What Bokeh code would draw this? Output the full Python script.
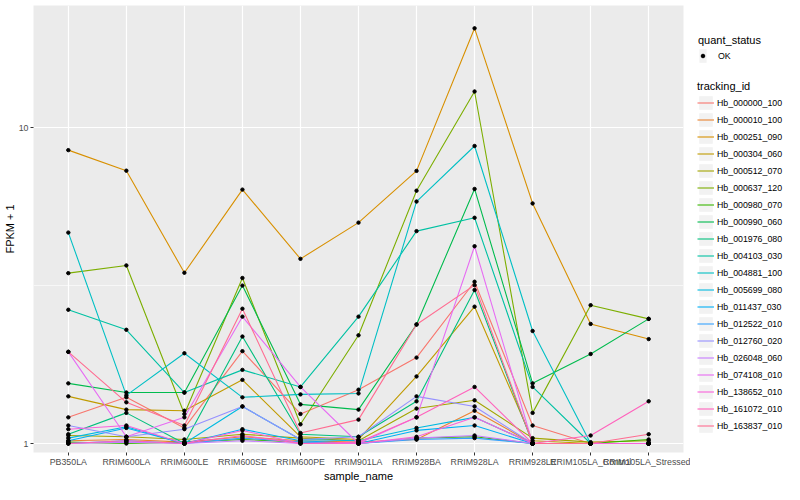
from bokeh.plotting import figure
from bokeh.layouts import row
from bokeh.models import (FactorRange, Range1d, FixedTicker, Legend, LegendItem,
                          CustomJSTickFormatter)
from bokeh.embed import file_html
from bokeh.resources import INLINE

samples = ["PB350LA", "RRIM600LA", "RRIM600LE", "RRIM600SE", "RRIM600PE", "RRIM901LA",
           "RRIM928BA", "RRIM928LA", "RRIM928LE", "RRIM105LA_Control", "RRIM105LA_Stressed"]

tracking_ids = ["Hb_000000_100", "Hb_000010_100", "Hb_000251_090", "Hb_000304_060",
                "Hb_000512_070", "Hb_000637_120", "Hb_000980_070", "Hb_000990_060",
                "Hb_001976_080", "Hb_004103_030", "Hb_004881_100", "Hb_005699_080",
                "Hb_011437_030", "Hb_012522_010", "Hb_012760_020", "Hb_026048_060",
                "Hb_074108_010", "Hb_138652_010", "Hb_161072_010", "Hb_163837_010"]

colors = ["#F8766D", "#EA8331", "#D89000", "#C09B00", "#A3A500", "#7CAE00", "#39B600",
          "#00BB4E", "#00BF7D", "#00C1A3", "#00BFC4", "#00BAE0", "#00B0F6", "#35A2FF",
          "#9590FF", "#C77CFF", "#E76BF3", "#FA62DB", "#FF62BC", "#FF6C91"]

# FPKM + 1 per sample (same order as samples)
hb_000000_100 = [1.21, 1.40, 1.12, 1.96, 1.24, 1.48, 1.87, 3.25, 1.14, 1.00, 1.00]
hb_000010_100 = [1.02, 1.03, 1.01, 1.05, 1.02, 1.01, 1.03, 1.27, 1.00, 1.00, 1.00]
hb_000251_090 = [8.48, 7.30, 3.47, 6.36, 3.84, 5.00, 7.29, 20.6, 5.75, 2.39, 2.14]
hb_000304_060 = [1.41, 1.28, 1.27, 1.59, 1.05, 1.03, 1.63, 2.71, 1.02, 1.00, 1.00]
hb_000512_070 = [1.06, 1.05, 1.03, 1.07, 1.04, 1.02, 1.29, 1.37, 1.04, 1.01, 1.02]
hb_000637_120 = [3.46, 3.66, 1.24, 3.34, 1.15, 2.20, 6.31, 13.0, 1.25, 2.74, 2.48]
hb_000980_070 = [1.01, 1.00, 1.01, 1.03, 1.01, 1.00, 1.04, 1.05, 1.00, 1.00, 1.03]
hb_000990_060 = [1.55, 1.45, 1.45, 3.16, 1.33, 1.28, 2.38, 6.39, 1.55, 1.92, 2.48]
hb_001976_080 = [1.07, 1.25, 1.00, 2.18, 1.07, 1.05, 1.36, 3.06, 1.00, 1.00, 1.00]
hb_004103_030 = [2.65, 2.29, 1.45, 1.71, 1.51, 2.52, 4.70, 5.18, 1.51, 1.00, 1.00]
hb_004881_100 = [4.65, 1.42, 1.93, 1.40, 1.43, 1.44, 5.83, 8.74, 2.27, 1.00, 1.00]
hb_005699_080 = [1.04, 1.13, 1.00, 1.31, 1.03, 1.02, 1.12, 1.21, 1.00, 1.00, 1.00]
hb_011437_030 = [1.02, 1.12, 1.00, 1.11, 1.02, 1.00, 1.10, 1.14, 1.00, 1.00, 1.00]
hb_012522_010 = [1.00, 1.02, 1.00, 1.04, 1.01, 1.00, 1.03, 1.04, 1.00, 1.00, 1.00]
hb_012760_020 = [1.14, 1.05, 1.11, 1.31, 1.03, 1.05, 1.41, 1.31, 1.00, 1.00, 1.00]
hb_026048_060 = [1.00, 1.01, 1.00, 1.02, 1.00, 1.00, 1.04, 1.06, 1.00, 1.00, 1.00]
hb_074108_010 = [1.95, 1.05, 1.21, 2.52, 1.51, 1.00, 1.21, 4.21, 1.00, 1.00, 1.00]
hb_138652_010 = [1.11, 1.14, 1.00, 1.10, 1.00, 1.00, 1.05, 1.21, 1.00, 1.00, 1.00]
hb_161072_010 = [1.00, 1.02, 1.00, 1.06, 1.00, 1.01, 1.21, 1.51, 1.00, 1.06, 1.36]
hb_163837_010 = [1.95, 1.35, 1.14, 2.67, 1.08, 1.19, 2.38, 3.17, 1.00, 1.00, 1.07]

series = [hb_000000_100, hb_000010_100, hb_000251_090, hb_000304_060, hb_000512_070,
          hb_000637_120, hb_000980_070, hb_000990_060, hb_001976_080, hb_004103_030,
          hb_004881_100, hb_005699_080, hb_011437_030, hb_012522_010, hb_012760_020,
          hb_026048_060, hb_074108_010, hb_138652_010, hb_161072_010, hb_163837_010]

FONT = "Liberation Sans"
H = 484
TOP = 5          # frame top (px)
BOTTOM = 452     # frame bottom (px)
DEC = 316.0      # px per decade
Y10 = 127.0      # pixel of value 10
top_log = 1 + (Y10 - TOP) / DEC
bot_log = 1 - (BOTTOM - Y10) / DEC

p = figure(width=690, height=H, output_backend="svg", toolbar_location=None,
           x_range=FactorRange(factors=samples, range_padding=0.1, range_padding_units="absolute"),
           y_axis_type="log", y_range=Range1d(10 ** bot_log, 10 ** top_log),
           min_border_left=27, min_border_right=7, min_border_top=TOP, min_border_bottom=15)

p.background_fill_color = "#EBEBEB"
p.border_fill_color = "white"
p.outline_line_color = None

yt = FixedTicker(ticks=[1, 10], minor_ticks=[10 ** 0.5])
p.yaxis.ticker = yt
p.ygrid.ticker = yt
p.ygrid.grid_line_color = "white"
p.ygrid.grid_line_width = 1.2
p.ygrid.minor_grid_line_color = "white"
p.ygrid.minor_grid_line_width = 0.6
p.xgrid.grid_line_color = "white"
p.xgrid.grid_line_width = 1.2

p.yaxis.formatter = CustomJSTickFormatter(code="return String(Math.round(tick));")

for ax in (p.xaxis, p.yaxis):
    ax.axis_line_color = None
    ax.major_tick_line_color = "#333333"
    ax.major_tick_out = 3
    ax.major_tick_in = 0
    ax.minor_tick_line_color = None
    ax.major_label_text_font = FONT
    ax.major_label_text_font_size = "8.8px"
    ax.major_label_text_color = "#4D4D4D"
    ax.major_label_standoff = 1
    ax.axis_label_text_font = FONT
    ax.axis_label_text_font_size = "11px"
    ax.axis_label_text_font_style = "normal"
    ax.axis_label_text_color = "black"
    ax.axis_label_standoff = 0

p.xaxis.axis_label = "sample_name"
p.yaxis.axis_label = "FPKM + 1"

all_x, all_y = [], []
for col, vals in zip(colors, series):
    p.line(x=samples, y=vals, line_color=col, line_width=1.1)
    all_x.extend(samples)
    all_y.extend(vals)

p.scatter(x=all_x, y=all_y, size=3.4, color="black", marker="circle")

# ---- legend panel (separate canvas so the legends are not clipped) ----
q = figure(width=94, height=H, output_backend="svg", toolbar_location=None,
           x_axis_location=None, y_axis_location=None,
           x_range=Range1d(0, 1), y_range=Range1d(0, 1),
           min_border_left=0, min_border_right=0, min_border_top=0, min_border_bottom=0)
q.outline_line_color = None
q.background_fill_color = "white"
q.border_fill_color = "white"
q.grid.visible = False

# key renderers: their data lie outside q's ranges, so only the legend shows them
key_bg = q.quad(left=[5], right=[6], top=[6], bottom=[5], fill_color="#F2F2F2", line_color=None)
pt_key = q.scatter(x=[5], y=[5], size=3.4, color="black", marker="circle")
items = []
for tid, col in zip(tracking_ids, colors):
    r = q.line(x=[5, 6], y=[5, 6], line_color=col, line_width=1.1)
    items.append(LegendItem(label=tid, renderers=[key_bg, r]))


def make_legend(title, its, loc, standoff, gw=17, ls=3):
    lg = Legend(items=its, location=loc, title=title)
    lg.title_text_font = FONT
    lg.title_text_font_size = "11px"
    lg.title_text_font_style = "normal"
    lg.title_text_color = "black"
    lg.title_standoff = standoff
    lg.label_text_font = FONT
    lg.label_text_font_size = "8.8px"
    lg.label_text_color = "black"
    lg.glyph_width = gw
    lg.glyph_height = 17
    lg.label_height = 17
    lg.label_standoff = ls
    lg.spacing = 0
    lg.padding = 0
    lg.margin = 0
    lg.border_line_color = None
    lg.background_fill_alpha = 0
    return lg

leg1 = make_legend("quant_status", [LegendItem(label="OK", renderers=[key_bg, pt_key])],
                   (8, 388), 1, gw=9, ls=11)
leg2 = make_legend("tracking_id", items, (7, 18), 2)
q.add_layout(leg1, "center")
q.add_layout(leg2, "center")

layout = row(p, q)
open("out.html", "w").write(file_html(layout, INLINE))
